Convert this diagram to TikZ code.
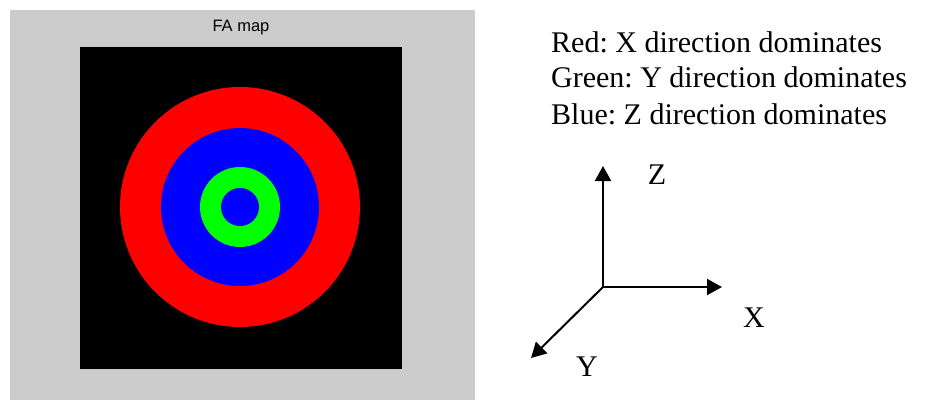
\documentclass[tikz,border=0pt]{standalone}
\usepackage{fontspec}
\setmainfont{Liberation Serif}
\newfontfamily\guifont{Liberation Sans}
\usetikzlibrary{arrows.meta, positioning}
\definecolor{panelgray}{RGB}{204, 204, 204}
\definecolor{fared}{RGB}{255, 0, 0}
\definecolor{fagreen}{RGB}{0, 255, 0}
\definecolor{fablue}{RGB}{0, 0, 255}

\begin{document}
\begin{tikzpicture}[x=1pt, y=-1pt, font=\frenchspacing\fontsize{30}{36}\selectfont,
    axis/.style={line width=2pt, -{Triangle[length=15pt, width=16pt]}},
    legendline/.style={anchor=base west, inner sep=0pt}]
            \useasboundingbox (0, 0) rectangle (939, 400);
            % Figure panel
            \fill[panelgray] (10, 10) rectangle (475, 400);
            \node[font=\guifont\fontsize{16.5}{18}\selectfont] (title) at (241, 28) {FA map};
            \fill[black] (80, 47) rectangle (402, 369);
            % Rings (outer to inner)
            \fill[fared] (240, 207) circle (120);
            \fill[fablue] (240, 207) circle (79);
            \fill[fagreen] (240, 207) circle (40);
            \fill[fablue] (240, 207) circle (19);
            % Legend
            \node[legendline] (legred) at (551, 52) {Red: X direction dominates};
            \node[legendline] (leggreen) at (551, 87) {Green: Y direction dominates};
            \node[legendline] (legblue) at (551, 124) {Blue: Z direction dominates};
            % Axes
            \coordinate (O) at (603, 287);
            \coordinate (zend) at (603, 166);
            \coordinate (xend) at (722, 287);
            \coordinate (yend) at (531, 358);
            \draw[axis] (O) -- (zend);
            \draw[axis] (O) -- (xend);
            \draw[axis] (O) -- (yend);
            \node[anchor=base] (zlab) at (657, 184) {Z};
            \node[anchor=base] (xlab) at (754, 327) {X};
            \node[anchor=base] (ylab) at (587, 376) {Y};
        \end{tikzpicture}
\end{document}
